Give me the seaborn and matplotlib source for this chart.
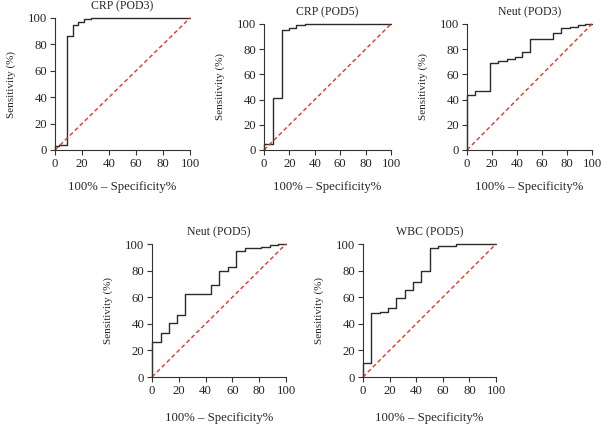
import numpy as np
import pandas as pd
import matplotlib
matplotlib.use("Agg")
import matplotlib.pyplot as plt
import seaborn as sns

# ROC step points (100% - specificity, sensitivity)
titles = ["CRP (POD3)", "CRP (POD5)", "Neut (POD3)", "Neut (POD5)", "WBC (POD5)"]

crp3_fpr = [0, 0, 3, 8.6, 13, 17.3, 21.7, 27, 100]
crp3_tpr = [0, 3, 4, 86, 95, 97, 99, 100, 100]

crp5_fpr = [0, 0, 6.8, 13.9, 20, 25, 32, 100]
crp5_tpr = [0, 4.5, 41, 95, 97, 99, 100, 100]

neut3_fpr = [0, 0, 6, 18.5, 25, 31.7, 38.3, 44, 50.2, 68.8, 75.4, 82, 88.6, 94.4, 100]
neut3_tpr = [0, 44, 47, 69, 70.5, 72, 74, 77.5, 88, 93, 97, 98, 99, 100, 100]

neut5_fpr = [0, 0, 6.5, 12.6, 19, 24.8, 44.2, 50.3, 56.6, 63, 69.3, 81.5, 87.7, 93.8, 100]
neut5_tpr = [0, 26, 33, 40.5, 46.6, 62.2, 69, 80, 83, 95, 97, 98, 99, 100, 100]

wbc5_fpr = [0, 0, 5.8, 12.5, 18.8, 25, 31.3, 37.6, 43.8, 50.1, 56.4, 70.2, 100]
wbc5_tpr = [0, 10.3, 48, 49, 51.6, 59.6, 65.4, 71.2, 79.7, 96.8, 98.5, 100, 100]

curves = [(crp3_fpr, crp3_tpr), (crp5_fpr, crp5_tpr), (neut3_fpr, neut3_tpr),
          (neut5_fpr, neut5_tpr), (wbc5_fpr, wbc5_tpr)]
diag = [0, 100]
ticks = [0, 20, 40, 60, 80, 100]

sns.set_style("ticks")
plt.rcParams["font.family"] = ["Liberation Serif", "DejaVu Serif"]

W, H = 601, 424
fig = plt.figure(figsize=(W / 100, H / 100), dpi=100)

# axes boxes in pixels: left, top, right, bottom
boxes = [(55, 18, 190, 150), (264, 24, 391, 150), (467, 24, 592, 150),
         (152, 244, 286, 377), (363, 244, 496, 377)]
xpads = [8, 8, 8, 11, 11]

for (l, t, r, b), title, (fx, ty), xp in zip(boxes, titles, curves, xpads):
    ax = fig.add_axes([l / W, 1 - b / H, (r - l) / W, (b - t) / H])
    df = pd.DataFrame({"fpr": fx, "tpr": ty})
    sns.lineplot(data=df, x="fpr", y="tpr", ax=ax, sort=False, estimator=None,
                 drawstyle="steps-post", color="#2b2b2b", linewidth=1.0, clip_on=False)
    sns.lineplot(x=diag, y=diag, ax=ax, color="#e8332a", linewidth=1.0,
                 linestyle=(0, (3, 2)), clip_on=False)
    ax.set_xlim(0, 100)
    ax.set_ylim(0, 100)
    ax.set_xticks(ticks)
    ax.set_yticks(ticks)
    ax.tick_params(labelsize=9.2, length=3.5, width=0.8, color="#333333", pad=2)
    for s in ["left", "bottom"]:
        ax.spines[s].set_linewidth(0.8)
        ax.spines[s].set_color("#333333")
    sns.despine(ax=ax)
    ax.set_title(title, fontsize=8.5, pad=6)
    ax.set_xlabel("100% \u2013 Specificity%", fontsize=9.2, labelpad=xp)
    ax.set_ylabel("Sensitivity (%)", fontsize=8, labelpad=9)

fig.savefig("out.png", dpi=100)
